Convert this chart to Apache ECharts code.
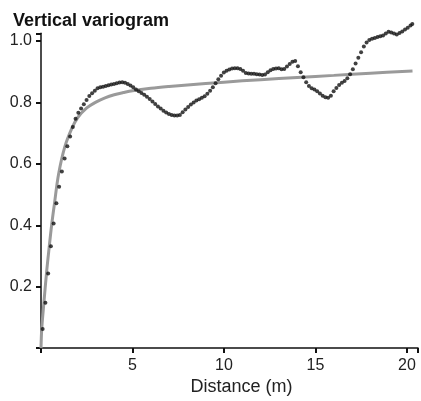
<!DOCTYPE html>
<html>
<head>
<meta charset="utf-8">
<script src="https://cdn.jsdelivr.net/npm/echarts@6/dist/echarts.min.js"></script>
<style>html,body{margin:0;padding:0;background:#fff;}#c{width:421px;height:401px;}</style>
</head>
<body>
<div id="c"></div>
<script>
// Experimental variogram: lag distance (m) and semivariance
const lagDist = [0.09,0.24,0.39,0.54,0.69,0.84,0.99,1.14,1.29,1.44,1.59,1.74,1.89,2.04,2.19,2.34,2.49,2.64,2.79,2.94,
3.09,3.24,3.39,3.54,3.69,3.84,3.99,4.14,4.29,4.44,4.59,4.74,4.89,5.04,5.19,5.34,5.49,5.64,5.79,5.94,
6.09,6.24,6.39,6.54,6.69,6.84,6.99,7.14,7.29,7.44,7.59,7.74,7.89,8.04,8.19,8.34,8.49,8.64,8.79,8.94,
9.09,9.24,9.39,9.54,9.69,9.84,9.99,10.14,10.29,10.44,10.59,10.74,10.89,11.04,11.19,11.34,11.49,11.64,11.79,11.94,
12.09,12.24,12.39,12.54,12.69,12.84,12.99,13.14,13.29,13.44,13.59,13.74,13.89,14.04,14.19,14.34,14.49,14.64,14.79,14.94,
15.09,15.24,15.39,15.54,15.69,15.84,15.99,16.14,16.29,16.44,16.59,16.74,16.89,17.04,17.19,17.34,17.49,17.64,17.79,17.94,
18.09,18.24,18.39,18.54,18.69,18.84,18.99,19.14,19.29,19.44,19.59,19.74,19.89,20.04,20.19,20.29];
const gammaObs = [0.062,0.148,0.243,0.332,0.406,0.472,0.525,0.575,0.617,0.657,0.689,0.720,0.747,0.766,0.780,0.794,0.808,0.821,0.830,0.838,
0.846,0.849,0.851,0.853,0.856,0.858,0.860,0.862,0.865,0.866,0.864,0.860,0.855,0.849,0.842,0.836,0.831,0.825,0.818,0.811,
0.803,0.795,0.787,0.780,0.773,0.767,0.762,0.759,0.757,0.757,0.759,0.768,0.777,0.785,0.793,0.800,0.806,0.810,0.815,0.820,
0.828,0.838,0.849,0.862,0.875,0.887,0.897,0.903,0.907,0.910,0.911,0.911,0.909,0.903,0.896,0.894,0.893,0.893,0.892,0.891,
0.889,0.891,0.898,0.905,0.909,0.910,0.911,0.908,0.909,0.917,0.925,0.932,0.935,0.918,0.898,0.882,0.866,0.853,0.846,0.842,
0.836,0.829,0.822,0.817,0.815,0.822,0.836,0.847,0.857,0.864,0.870,0.879,0.892,0.908,0.927,0.945,0.963,0.982,0.995,1.003,
1.007,1.010,1.013,1.015,1.018,1.024,1.030,1.028,1.024,1.021,1.026,1.031,1.037,1.043,1.050,1.055];
// Fitted model curve
const modelDist = [0,0.04,0.15,0.31,0.45,0.58,0.73,0.96,1.3,1.69,2.0,2.5,3.0,3.5,4.0,4.5,5.0,6.0,7.0,8.0,10.0,12.0,14.0,16.0,18.0,20.3];
const modelGamma = [0,0.062,0.142,0.250,0.330,0.400,0.468,0.566,0.655,0.716,0.750,0.782,0.801,0.815,0.825,0.832,0.838,0.846,0.852,0.857,0.866,0.874,0.881,0.888,0.895,0.902];
const xTicks = [0,5,10,15,20];
const yTicks = [0,0.2,0.4,0.6,0.8,1.0];

const obsData = lagDist.map((d,i)=>[d,gammaObs[i]]);
const modelData = modelDist.map((d,i)=>[d,modelGamma[i]]);

const chart = echarts.init(document.getElementById('c'), null, {renderer:'canvas'});
const txt = '#222';
chart.setOption({
  animation:false,
  backgroundColor:'#fff',
  title:{text:'Vertical variogram',left:8,top:7,textStyle:{fontFamily:'Liberation Sans',fontWeight:'bold',fontSize:18,color:'#111'}},
  grid:{left:41,right:1.6,top:33.3,bottom:52},
  xAxis:{type:'value',min:0,max:20.6,interval:5,
    name:'Distance (m)',nameLocation:'middle',nameGap:27,
    nameTextStyle:{fontFamily:'Liberation Sans',fontSize:18,color:txt,padding:[0,0,0,24]},
    axisLine:{show:true,onZero:false,lineStyle:{color:'#111',width:1.5}},
    axisTick:{show:true,length:5,lineStyle:{color:'#111',width:2}},
    axisLabel:{margin:9,fontFamily:'Liberation Sans',fontSize:16,color:txt,
      formatter:v=>xTicks.indexOf(v)>0?String(v):''},
    splitLine:{show:false}},
  yAxis:{type:'value',min:0,max:1.025,interval:0.2,
    axisLine:{show:true,lineStyle:{color:'#111',width:1.5}},
    axisTick:{show:true,length:5,lineStyle:{color:'#111',width:2}},
    axisLabel:{margin:9,fontFamily:'Liberation Sans',fontSize:16,color:txt,
      formatter:v=>{const k=yTicks.findIndex(t=>Math.abs(t-v)<1e-6);return k>0?yTicks[k].toFixed(1):'';}},
    splitLine:{show:false}},
  series:[
    {type:'line',data:modelData,showSymbol:false,smooth:0.35,clip:false,
      lineStyle:{color:'#9a9a9a',width:3},z:2},
    {type:'scatter',data:obsData,symbol:'circle',symbolSize:4,clip:false,
      itemStyle:{color:'#111'},z:3}
  ]
});
</script>
</body>
</html>
